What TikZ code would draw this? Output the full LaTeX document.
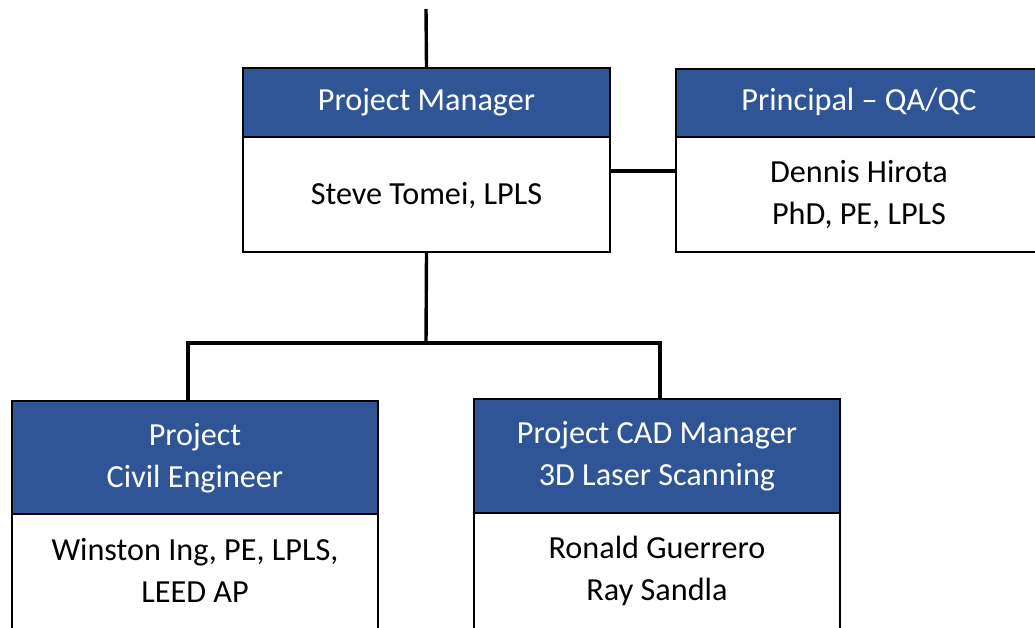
\documentclass[tikz,border=0pt]{standalone}
\usepackage{fontspec}
\setmainfont{Carlito}
\definecolor{hdrblue}{HTML}{2F5597}
\newcommand\twoln[2]{\vtop{\baselineskip=42pt\halign{\hfil##\hfil\cr#1\cr#2\cr}}}
\begin{document}
\begin{tikzpicture}[x=1pt,y=-1pt,
  hdr/.style={draw=black,line width=2.2pt,fill=hdrblue,inner sep=0pt},
  bdy/.style={draw=black,line width=2.2pt,fill=white,inner sep=0pt},
  htxt/.style={anchor=base,inner sep=0pt,text=white,font=\fontsize{32.2}{42}\selectfont},
  btxt/.style={anchor=base,inner sep=0pt,text=black,font=\fontsize{32.2}{42}\selectfont},
  conn/.style={draw=black,line width=3.4pt}]
\useasboundingbox (0,0) rectangle (1035,627);
\clip (0,0) rectangle (1035,627);
\fill[white] (0,0) rectangle (1035,627);

% connectors
\coordinate (top) at (426,9);
\coordinate (lvl) at (0,171);
\coordinate (bus) at (426,343);
\coordinate (civtop) at (188,401);
\coordinate (cadtop) at (660,399);

% Project Manager
\node[bdy,minimum width=367pt,minimum height=115pt] (pmb) at (426.5,194.5) {};
\node[hdr,minimum width=367pt,minimum height=69pt] (pmh) at (426.5,102.5) {};
% Principal
\node[bdy,minimum width=366pt,minimum height=115pt] (prb) at (859,194.5) {};
\node[hdr,minimum width=366pt,minimum height=68pt] (prh) at (859,103) {};
% Civil
\node[bdy,minimum width=366pt,minimum height=130pt] (cvb) at (195,579) {};
\node[hdr,minimum width=366pt,minimum height=113pt] (cvh) at (195,457.5) {};
% CAD
\node[bdy,minimum width=366pt,minimum height=130pt] (cdb) at (657,578) {};
\node[hdr,minimum width=366pt,minimum height=114pt] (cdh) at (657,456) {};

\draw[conn] (top) -- (pmh.north);
\draw[conn] (lvl -| pmb.east) -- (lvl -| prb.west);
\draw[conn] (pmb.south) -- (bus);
\draw[conn] (civtop) |- (bus) -| (cadtop);

% texts
\node[htxt] (pmht) at (426.5,110) {Project Manager};
\node[btxt] (pmbt) at (426.5,204) {Steve Tomei, LPLS};
\node[htxt] (prht) at (859,110) {Principal – QA/QC};
\node[btxt] (prbt) at (859,182.3) {\twoln{Dennis Hirota}{PhD, PE, LPLS}};
\node[htxt] (cvht) at (195,445.7) {\twoln{Project}{Civil Engineer}};
\node[btxt] (cvbt) at (195,560) {\twoln{Winston Ing, PE, LPLS,}{LEED AP}};
\node[htxt] (cdht) at (657,443.3) {\twoln{Project CAD Manager}{3D Laser Scanning}};
\node[btxt] (cdbt) at (657,558.7) {\twoln{Ronald Guerrero}{Ray Sandla}};
\end{tikzpicture}
\end{document}
